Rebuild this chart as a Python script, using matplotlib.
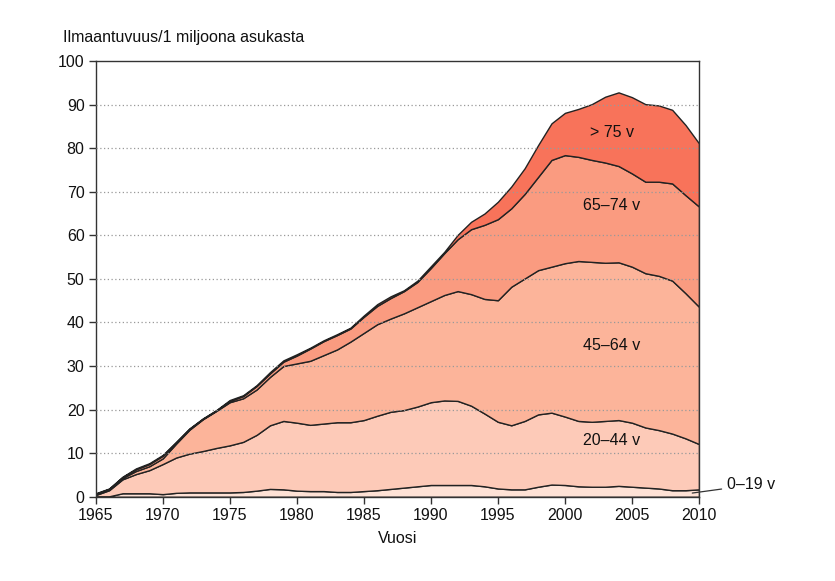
import matplotlib
matplotlib.use("Agg")
import matplotlib.pyplot as plt
import numpy as np

plt.rcParams['font.family'] = ['Liberation Sans', 'DejaVu Sans']

years = list(range(1965, 2011))
age_0_19 = [0.1, 0.1, 0.8, 0.8, 0.8, 0.6, 0.9, 1.0, 1.0, 1.0,
            1.0, 1.1, 1.4, 1.8, 1.7, 1.4, 1.3, 1.3, 1.1, 1.1,
            1.3, 1.5, 1.8, 2.1, 2.4, 2.7, 2.7, 2.7, 2.7, 2.4,
            1.9, 1.7, 1.7, 2.3, 2.8, 2.7, 2.4, 2.3, 2.3, 2.5,
            2.3, 2.1, 1.9, 1.5, 1.5, 1.7]
age_20_44 = [0.3, 1.4, 3.2, 4.4, 5.3, 6.9, 8.1, 8.9, 9.5, 10.2,
             10.8, 11.5, 12.8, 14.6, 15.7, 15.6, 15.2, 15.5, 16.0, 16.0,
             16.3, 17.1, 17.7, 17.8, 18.3, 19.0, 19.4, 19.3, 18.2, 16.7,
             15.3, 14.7, 15.7, 16.6, 16.5, 15.7, 15.0, 14.9, 15.1, 15.1,
             14.7, 13.8, 13.4, 13.0, 11.9, 10.4]
age_45_64 = [0.2, 0.2, 0.3, 0.7, 0.9, 1.3, 3.2, 5.5, 7.3, 8.5,
             9.9, 10.0, 10.4, 11.1, 12.6, 13.6, 14.7, 15.7, 16.7, 18.5,
             20.0, 21.0, 21.4, 22.2, 22.8, 23.2, 24.2, 25.2, 25.6, 26.3,
             27.9, 31.8, 32.7, 33.1, 33.5, 35.2, 36.7, 36.7, 36.3, 36.2,
             35.8, 35.4, 35.4, 35.1, 33.3, 31.5]
age_65_74 = [0.1, 0.1, 0.2, 0.4, 0.5, 0.6, 0.3, 0.2, 0.1, 0.1,
             0.3, 0.5, 0.8, 0.8, 1.0, 1.8, 2.8, 3.2, 3.3, 3.0,
             3.7, 4.2, 4.7, 5.1, 5.8, 7.6, 9.6, 11.9, 14.9, 17.0,
             18.6, 18.0, 19.4, 21.4, 24.5, 24.8, 23.9, 23.4, 23.0, 22.1,
             21.4, 21.0, 21.6, 22.3, 22.5, 23.0]
age_75_plus = [0.1, 0.1, 0.1, 0.2, 0.2, 0.2, 0.1, 0.1, 0.1, 0.1,
               0.2, 0.2, 0.2, 0.3, 0.3, 0.3, 0.2, 0.2, 0.2, 0.2,
               0.3, 0.4, 0.4, 0.2, 0.3, 0.4, 0.3, 1.0, 1.7, 2.6,
               4.0, 5.0, 5.9, 7.3, 8.4, 9.7, 11.0, 12.8, 15.1, 16.9,
               17.5, 17.8, 17.5, 16.9, 16.1, 14.5]

group_labels = ['0–19 v', '20–44 v', '45–64 v', '65–74 v', '> 75 v']
colors = ['#fee2d6', '#fdcab8', '#fcb49a', '#fa9b80', '#f8735a']

fig = plt.figure(figsize=(8.35, 5.81), dpi=100)
ax = fig.add_axes([0.1146, 0.145, 0.7225, 0.750])

ax.stackplot(years, age_0_19, age_20_44, age_45_64, age_65_74, age_75_plus,
             colors=colors, edgecolor='#222222', linewidth=1.0, zorder=1)

ax.set_xlim(1965, 2010)
ax.set_ylim(0, 100)
ax.set_xticks(range(1965, 2011, 5))
ax.set_yticks(range(0, 101, 10))
for yv in range(10, 100, 10):
    ax.axhline(yv, color='#999999', linestyle=(0, (1, 2)), linewidth=0.9, zorder=3)

for s in ax.spines.values():
    s.set_color('#333333')
    s.set_linewidth(1.0)
ax.tick_params(axis='both', direction='out', length=5, width=1, color='#333333',
               labelsize=11.5, labelcolor='#111111', pad=3)

ax.set_xlabel('Vuosi', fontsize=11.5, color='#111111', labelpad=6)
fig.text(0.0755, 0.935, 'Ilmaantuvuus/1 miljoona asukasta', fontsize=11.5,
         color='#111111', ha='left', va='center')

label_x = 2003.5
label_y = [None, 13.0, 34.6, 66.8, 83.6]
for i in range(1, 5):
    ax.text(label_x, label_y[i], group_labels[i], fontsize=11.5, color='#111111',
            ha='center', va='center', zorder=4)

ax.annotate(group_labels[0], xy=(2009.5, 0.85), xytext=(2012.1, 2.7),
            fontsize=11.5, color='#111111', ha='left', va='center',
            annotation_clip=False,
            arrowprops=dict(arrowstyle='-', color='#333333', linewidth=0.9,
                            shrinkA=2, shrinkB=0))

fig.savefig('out.png', dpi=100)
